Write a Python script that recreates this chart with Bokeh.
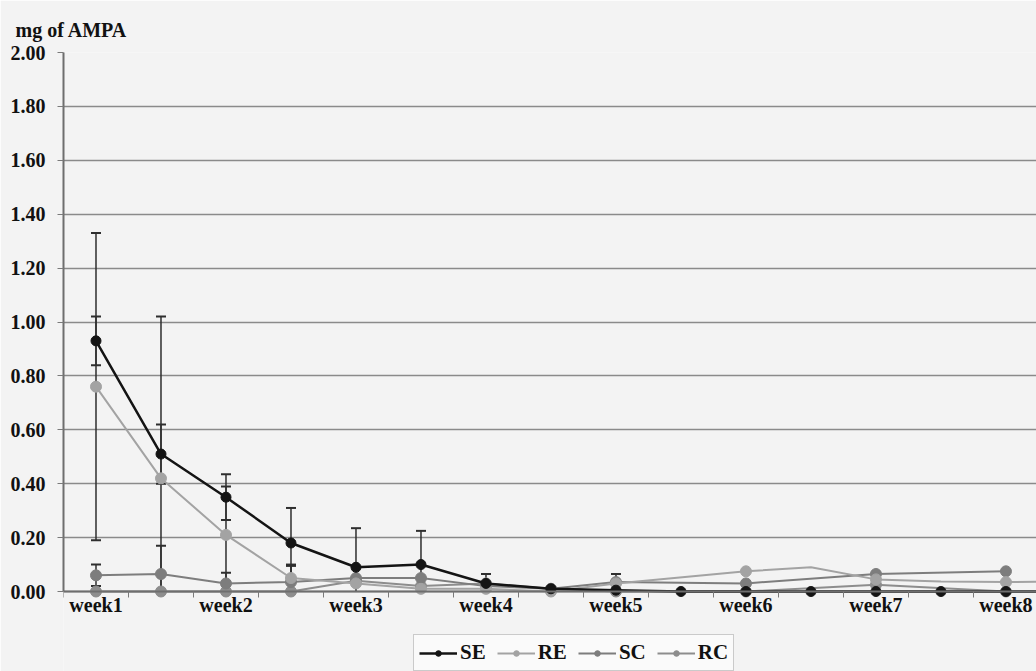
from bokeh.plotting import figure
from bokeh.models import (Range1d, FixedTicker, NumeralTickFormatter, Whisker, TeeHead,
                          ColumnDataSource, Legend, LegendItem)
from bokeh.embed import file_html
from bokeh.resources import INLINE

# ---------------- data ----------------
week_labels = ["week1", "week2", "week3", "week4", "week5", "week6", "week7", "week8"]
y_ticks = [0.0, 0.2, 0.4, 0.6, 0.8, 1.0, 1.2, 1.4, 1.6, 1.8, 2.0]

se_weeks = [1, 1.5, 2, 2.5, 3, 3.5, 4, 4.5, 5, 5.5, 6, 6.5, 7, 7.5, 8, 8.5]
se_vals  = [0.93, 0.51, 0.35, 0.18, 0.09, 0.10, 0.03, 0.01, 0.005, 0.0, 0.0, 0.0, 0.0, 0.0, 0.0, 0.0]
se_err   = [0.09, 0.11, 0.085, 0.13, 0.145, 0.125, 0.035, 0.0, 0.0, 0.0, 0.0, 0.0, 0.0, 0.0, 0.0, 0.0]

re_weeks = [1, 1.5, 2, 2.5, 3, 3.5, 4, 4.5, 5, 6, 6.5, 7, 7.5, 8, 8.5]
re_vals  = [0.76, 0.42, 0.21, 0.05, 0.03, 0.01, 0.01, 0.0, 0.03, 0.075, 0.09, 0.045, 0.037, 0.035, 0.037]
re_err   = [0.57, 0.60, 0.18, 0.05, 0.0, 0.0, 0.0, 0.0, 0.0, 0.0, 0.0, 0.0, 0.0, 0.0, 0.0]
re_mark  = [True, True, True, True, True, True, True, True, True, True, False, True, False, True, False]

sc_weeks = [1, 1.5, 2, 2.5, 3, 3.5, 4, 4.5, 5, 6, 7, 8]
sc_vals  = [0.06, 0.065, 0.03, 0.035, 0.05, 0.05, 0.02, 0.01, 0.035, 0.03, 0.065, 0.075]
sc_err   = [0.04, 0.105, 0.04, 0.06, 0.0, 0.0, 0.0, 0.0, 0.03, 0.0, 0.0, 0.0]

rc_weeks = [1, 1.5, 2, 2.5, 3, 3.5, 4, 4.5, 5, 6, 7, 8]
rc_vals  = [0.0, 0.0, 0.0, 0.0, 0.04, 0.02, 0.03, 0.01, 0.0, 0.0, 0.025, 0.0]
rc_err   = [0.0, 0.0, 0.0, 0.0, 0.0, 0.0, 0.0, 0.0, 0.0, 0.0, 0.0, 0.0]

# ---------------- figure ----------------
BG = "#f3f3f3"
FONT = "Liberation Serif"

# frame runs from the top gridline down to the bottom of the page; the
# value axis spans 0..2 and the space under 0 holds week labels and legend
p = figure(frame_width=973, frame_height=619, output_backend="svg", toolbar_location=None,
           x_range=Range1d(0.75, 8.235), y_range=Range1d(-0.2968, 2.0),
           background_fill_color=BG, border_fill_color=BG,
           min_border_left=63, min_border_right=0, min_border_top=52, min_border_bottom=0)
p.outline_line_color = None

p.title.text = "mg of AMPA"
p.title.text_font = FONT
p.title.text_font_style = "bold"
p.title.text_font_size = "20px"
p.title.align = "left"
p.title.offset = -48
p.title.standoff = 24
p.title.text_color = "#111111"

# y axis
p.yaxis.ticker = FixedTicker(ticks=y_ticks)
p.yaxis.bounds = (0, 2)
p.yaxis.formatter = NumeralTickFormatter(format="0.00")
p.yaxis.major_label_text_font = FONT
p.yaxis.major_label_text_font_style = "bold"
p.yaxis.major_label_text_font_size = "20px"
p.yaxis.major_label_text_color = "#111111"
p.yaxis.major_label_standoff = 12
p.yaxis.axis_line_color = "#6e6e6e"
p.yaxis.axis_line_width = 2
p.yaxis.major_tick_line_color = "#7a7a7a"
p.yaxis.major_tick_out = 6
p.yaxis.major_tick_in = 0
p.yaxis.minor_tick_line_color = None

# x axis, pinned at value 0
minor = [0.75 + 0.5 * k for k in range(16)]
p.xaxis.fixed_location = 0
p.xaxis.ticker = FixedTicker(ticks=list(range(1, 9)), minor_ticks=minor)
p.xaxis.major_label_overrides = {i + 1: lab for i, lab in enumerate(week_labels)}
p.xaxis.major_label_text_font = FONT
p.xaxis.major_label_text_font_style = "bold"
p.xaxis.major_label_text_font_size = "20px"
p.xaxis.major_label_text_color = "#111111"
p.xaxis.major_label_standoff = -4
p.xaxis.axis_line_color = "#6e6e6e"
p.xaxis.axis_line_width = 2
p.xaxis.major_tick_line_color = None
p.xaxis.minor_tick_line_color = "#7a7a7a"
p.xaxis.minor_tick_out = 6
p.xaxis.minor_tick_in = 0

p.xgrid.grid_line_color = None
p.ygrid.grid_line_color = "#8a8a8a"
p.ygrid.grid_line_width = 1.5

# ---------------- series ----------------
series = [
    ("SE", se_weeks, se_vals, se_err, [True] * len(se_vals), "#141414", 2.5, 10),
    ("RE", re_weeks, re_vals, re_err, re_mark, "#a3a3a3", 2.0, 11),
    ("SC", sc_weeks, sc_vals, sc_err, [True] * len(sc_vals), "#7d7d7d", 2.0, 11),
    ("RC", rc_weeks, rc_vals, rc_err, [True] * len(rc_vals), "#8d8d8d", 2.0, 11),
]

renders = {}
for name, xs, ys, es, mk, col, lw, ms in reversed(series):
    wx = [x for x, e in zip(xs, es) if e > 0]
    wl = [max(y - e, 0.0) for y, e in zip(ys, es) if e > 0]
    wu = [y + e for y, e in zip(ys, es) if e > 0]
    keep_low = [y - e >= 0 for y, e in zip(ys, es) if e > 0]
    if wx:
        # whiskers whose lower end falls below the axis are cut at 0 (no cap)
        full = ColumnDataSource(dict(x=[a for a, k in zip(wx, keep_low) if k],
                                     lower=[a for a, k in zip(wl, keep_low) if k],
                                     upper=[a for a, k in zip(wu, keep_low) if k]))
        cut = ColumnDataSource(dict(x=[a for a, k in zip(wx, keep_low) if not k],
                                    lower=[a for a, k in zip(wl, keep_low) if not k],
                                    upper=[a for a, k in zip(wu, keep_low) if not k]))
        p.add_layout(Whisker(source=full, base="x", lower="lower", upper="upper",
                             line_color="#2e2e2e", line_width=1.5,
                             upper_head=TeeHead(size=10, line_color="#2e2e2e", line_width=2),
                             lower_head=TeeHead(size=10, line_color="#2e2e2e", line_width=2)))
        p.add_layout(Whisker(source=cut, base="x", lower="lower", upper="upper",
                             line_color="#2e2e2e", line_width=1.5,
                             upper_head=TeeHead(size=10, line_color="#2e2e2e", line_width=2),
                             lower_head=None))
    ln = p.line(xs, ys, line_color=col, line_width=lw)
    mx = [x for x, m in zip(xs, mk) if m]
    my = [y for y, m in zip(ys, mk) if m]
    sc = p.scatter(mx, my, size=ms, fill_color=col, line_color=col)
    renders[name] = (ln, sc)

items = [LegendItem(label=name, renderers=list(renders[name])) for name, *_ in series]

legend = Legend(items=items, orientation="horizontal", location=(350, 0),
                label_text_font=FONT, label_text_font_style="bold",
                label_text_font_size="21px", label_text_color="#111111",
                glyph_width=38, glyph_height=14, spacing=11, label_standoff=3,
                padding=5, margin=0,
                border_line_color="#9a9a9a", border_line_width=1.5,
                background_fill_color="#ffffff", background_fill_alpha=0.6)
p.add_layout(legend)

open("out.html", "w").write(file_html(p, INLINE))
